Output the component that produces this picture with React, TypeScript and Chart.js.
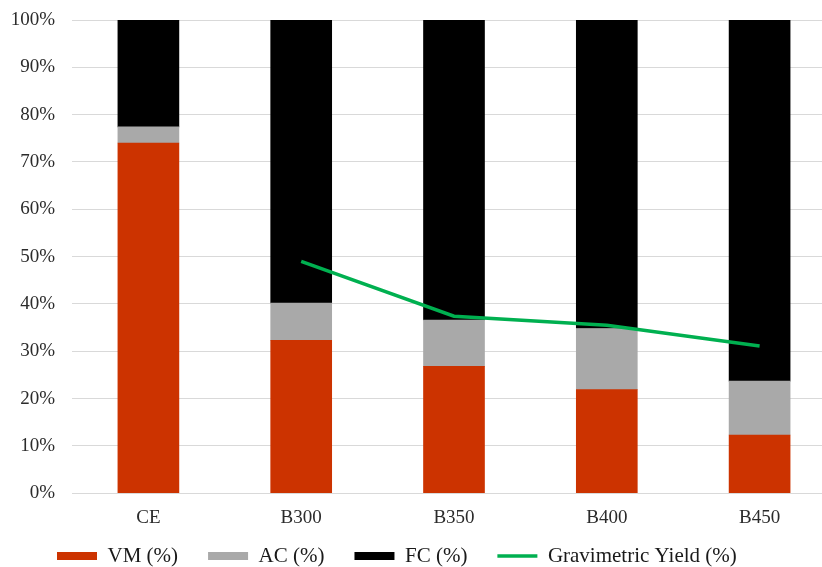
import React, { useEffect, useRef } from "react";
import { Chart, registerables } from "chart.js";

Chart.register(...registerables);

// Proximate composition of the raw sample (CE) and biochars made at 300–450 °C
const categories = ["CE", "B300", "B350", "B400", "B450"];
const volatileMatter = [74.0, 32.3, 26.8, 21.9, 12.3];
const ashContent = [3.4, 7.9, 9.8, 12.9, 11.4];
const fixedCarbon = [22.6, 59.8, 63.4, 65.2, 76.3];
const gravimetricYield = [null, 49.0, 37.4, 35.5, 31.1];
const yTicks = [0, 10, 20, 30, 40, 50, 60, 70, 80, 90, 100];

const seriesLabels = ["VM (%)", "AC (%)", "FC (%)", "Gravimetric Yield (%)"];

const SERIF = "'Liberation Serif', 'Times New Roman', serif";
const LEGEND_PAD = 30;

// Places the legend row at a fixed spot below the axis labels.
const legendPlacement = {
  id: "legendPlacement",
  afterLayout(chart: any, _args: any, opts: any) {
    const lg = chart.legend;
    if (!lg) return;
    const dx = opts.x - (lg.left + LEGEND_PAD);
    const dy = opts.y - (lg.top + LEGEND_PAD + opts.itemHeight / 2);
    lg.left += dx;
    lg.right += dx;
    lg.top += dy;
    lg.bottom += dy;
  },
};

export default function App() {
  const canvasRef = useRef<HTMLCanvasElement | null>(null);

  useEffect(() => {
    if (!canvasRef.current) return;
    const chart = new Chart(canvasRef.current, {
      type: "bar",
      data: {
        labels: categories,
        datasets: [
          {
            type: "bar",
            label: seriesLabels[0],
            data: volatileMatter,
            backgroundColor: "#CC3300",
            barThickness: 61,
            order: 1,
            pointStyle: "rect",
          },
          {
            type: "bar",
            label: seriesLabels[1],
            data: ashContent,
            backgroundColor: "#A9A9A9",
            barThickness: 61,
            order: 1,
            pointStyle: "rect",
          },
          {
            type: "bar",
            label: seriesLabels[2],
            data: fixedCarbon,
            backgroundColor: "#000000",
            barThickness: 61,
            order: 1,
            pointStyle: "rect",
          },
          {
            type: "line",
            label: seriesLabels[3],
            data: gravimetricYield as any,
            borderColor: "#00B050",
            backgroundColor: "#00B050",
            borderWidth: 3.5,
            pointRadius: 0,
            pointStyle: "line",
            tension: 0,
            stack: "yield",
            order: 0,
          },
        ],
      },
      options: {
        animation: false,
        responsive: false,
        layout: { padding: { top: 20, left: 0, right: 0, bottom: 0 } },
        plugins: {
          tooltip: { enabled: false },
          legend: {
            position: "bottom",
            align: "start",
            labels: {
              usePointStyle: true,
              pointStyleWidth: 40,
              boxHeight: 8,
              padding: LEGEND_PAD,
              color: "#1a1a1a",
              font: { family: SERIF, size: 21 },
              sort: (a: any, b: any) => a.datasetIndex - b.datasetIndex,
            },
          },
          legendPlacement: { x: 57, y: 556, itemHeight: 21 },
        } as any,
        scales: {
          x: {
            stacked: true,
            grid: { display: false },
            border: { display: false },
            ticks: {
              padding: 5,
              color: "#2b2b2b",
              font: { family: SERIF, size: 19 },
            },
          },
          y: {
            stacked: true,
            min: 0,
            max: 100,
            afterFit: (scale: any) => {
              scale.width = 72;
              scale.paddingTop = 0;
              scale.paddingBottom = 0;
            },
            afterBuildTicks: (scale: any) => {
              scale.ticks = yTicks.map((v) => ({ value: v }));
            },
            grid: { color: "#D9D9D9", lineWidth: 1, drawTicks: false },
            border: { display: false },
            ticks: {
              padding: 17,
              color: "#2b2b2b",
              font: { family: SERIF, size: 19 },
              callback: (v: any) => `${v}%`,
            },
          },
        },
      },
      plugins: [legendPlacement],
    });
    return () => chart.destroy();
  }, []);

  return (
    <div
      style={{
        position: "fixed",
        left: 0,
        top: 0,
        width: 822,
        height: 567,
        overflow: "hidden",
        background: "#ffffff",
      }}
    >
      <canvas
        ref={canvasRef}
        width={836}
        height={595}
        style={{ display: "block", width: 836, height: 595 }}
      />
    </div>
  );
}
